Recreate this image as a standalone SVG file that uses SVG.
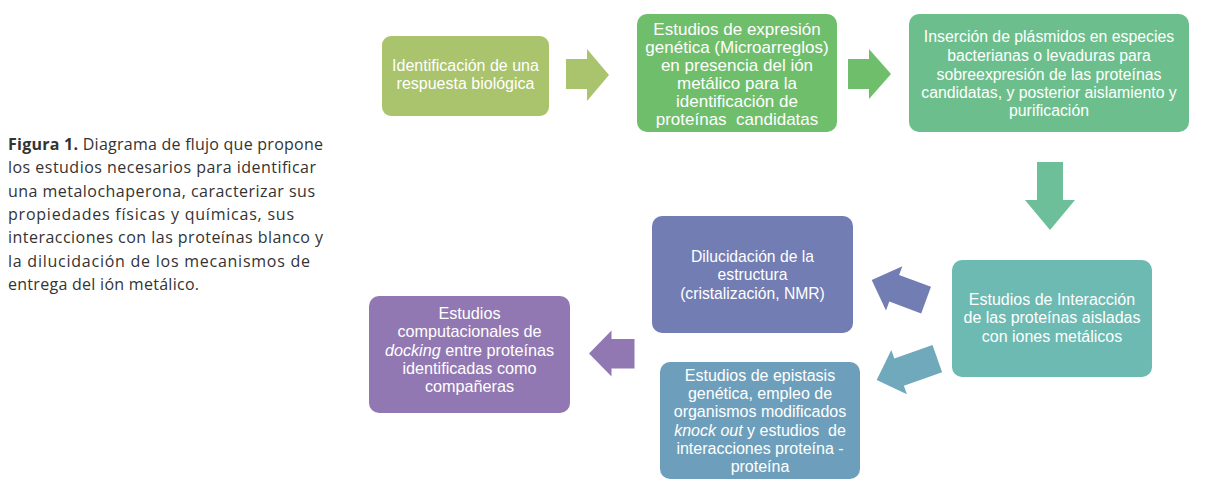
<svg xmlns="http://www.w3.org/2000/svg" width="1208" height="488" viewBox="0 0 1208 488">
<style>
.cap{font-family:"Open Sans","Liberation Sans",sans-serif;font-size:16px;fill:#333333}
.t{font-family:"Liberation Sans",Arial,sans-serif;fill:#ffffff;text-anchor:middle}
.i{font-style:italic}
</style>
<rect width="1208" height="488" fill="#ffffff"/>
<g id="caption">
<text class="cap" x="8" y="150" textLength="315" lengthAdjust="spacing"><tspan font-weight="bold">Figura 1.</tspan> Diagrama de flujo que propone</text>
<text class="cap" x="8" y="173.3" textLength="308" lengthAdjust="spacing">los estudios necesarios para identificar</text>
<text class="cap" x="8" y="196.6" textLength="307" lengthAdjust="spacing">una metalochaperona, caracterizar sus</text>
<text class="cap" x="8" y="219.9" textLength="286" lengthAdjust="spacing">propiedades físicas y químicas, sus</text>
<text class="cap" x="8" y="243.2" textLength="315" lengthAdjust="spacing">interacciones con las proteínas blanco y</text>
<text class="cap" x="8" y="266.5" textLength="302" lengthAdjust="spacing">la dilucidación de los mecanismos de</text>
<text class="cap" x="8" y="289.8" textLength="191" lengthAdjust="spacing">entrega del ión metálico.</text>
</g>
<g id="connectors">
<polygon fill="#aac46d" points="566,59 587,59 587,49 609,75 587,101 587,89 566,89"/>
<polygon fill="#6fbe6b" points="848,59 869,59 869,49 891,74 869,99 869,89 848,89"/>
<polygon fill="#6cbf98" points="1037,162 1063,162 1063,200 1075,200 1050,230 1025,200 1037,200"/>
<polygon fill="#727db4" points="871.7,280 902.4,266.2 899.1,275 931,286.8 921.2,313.4 889.3,301.6 886,310.4"/>
<polygon fill="#6fa9bb" points="876.7,380 891.3,350 894.3,358.5 932.5,345.1 942.1,372.3 903.9,385.7 906.9,394.2"/>
<polygon fill="#9278b2" points="589,353.5 611.5,330.5 611.5,339 634.5,339 634.5,368.5 611.5,368.5 611.5,376.5"/>
</g>
<g id="n1">
<rect x="382" y="36" width="167" height="80" rx="9" fill="#aac46d"/>
<text class="t" font-size="16" x="465.5" y="71">Identificación de una</text>
<text class="t" font-size="16" x="465.5" y="89">respuesta biológica</text>
</g>
<g id="n2">
<rect x="637" y="14" width="200" height="118" rx="10" fill="#6fbe6b"/>
<text class="t" font-size="17" x="737" y="35">Estudios de expresión</text>
<text class="t" font-size="17" x="737" y="53">genética (Microarreglos)</text>
<text class="t" font-size="17" x="737" y="71">en presencia del ión</text>
<text class="t" font-size="17" x="737" y="89">metálico para la</text>
<text class="t" font-size="17" x="737" y="107">identificación de</text>
<text class="t" font-size="17" x="737" y="125" xml:space="preserve">proteínas  candidatas</text>
</g>
<g id="n3">
<rect x="909" y="14" width="280" height="118" rx="10" fill="#6cbf8c"/>
<text class="t" font-size="15.8" x="1049" y="42">Inserción de plásmidos en especies</text>
<text class="t" font-size="15.8" x="1049" y="61">bacterianas o levaduras para</text>
<text class="t" font-size="15.8" x="1049" y="79.5">sobreexpresión de las proteínas</text>
<text class="t" font-size="15.8" x="1049" y="98">candidatas, y posterior aislamiento y</text>
<text class="t" font-size="15.8" x="1049" y="116">purificación</text>
</g>
<g id="n4">
<rect x="952" y="260" width="200" height="117" rx="10" fill="#6cbab2"/>
<text class="t" font-size="16" x="1052" y="305">Estudios de Interacción</text>
<text class="t" font-size="16" x="1052" y="323">de las proteínas aisladas</text>
<text class="t" font-size="16" x="1052" y="342">con iones metálicos</text>
</g>
<g id="n5">
<rect x="652" y="216" width="201" height="117" rx="10" fill="#727db4"/>
<text class="t" font-size="15.7" x="752.5" y="262">Dilucidación de la</text>
<text class="t" font-size="15.7" x="752.5" y="280">estructura</text>
<text class="t" font-size="15.7" x="752.5" y="298.5">(cristalización, NMR)</text>
</g>
<g id="n6">
<rect x="660" y="362" width="200" height="117" rx="10" fill="#6d9fbc"/>
<text class="t" font-size="16" x="760" y="380.5">Estudios de epistasis</text>
<text class="t" font-size="16" x="760" y="398.5">genética, empleo de</text>
<text class="t" font-size="16" x="760" y="417">organismos modificados</text>
<text class="t" font-size="16" x="760" y="435.5" xml:space="preserve"><tspan class="i">knock out</tspan> y estudios  de</text>
<text class="t" font-size="16" x="760" y="453.5">interacciones proteína -</text>
<text class="t" font-size="16" x="760" y="472">proteína</text>
</g>
<g id="n7">
<rect x="369" y="296" width="201" height="117" rx="10" fill="#9278b2"/>
<text class="t" font-size="16.2" x="469.5" y="319">Estudios</text>
<text class="t" font-size="16.2" x="469.5" y="337">computacionales de</text>
<text class="t" font-size="16.2" x="469.5" y="355.5"><tspan class="i">docking</tspan> entre proteínas</text>
<text class="t" font-size="16.2" x="469.5" y="374">identificadas como</text>
<text class="t" font-size="16.2" x="469.5" y="392">compañeras</text>
</g>
</svg>
